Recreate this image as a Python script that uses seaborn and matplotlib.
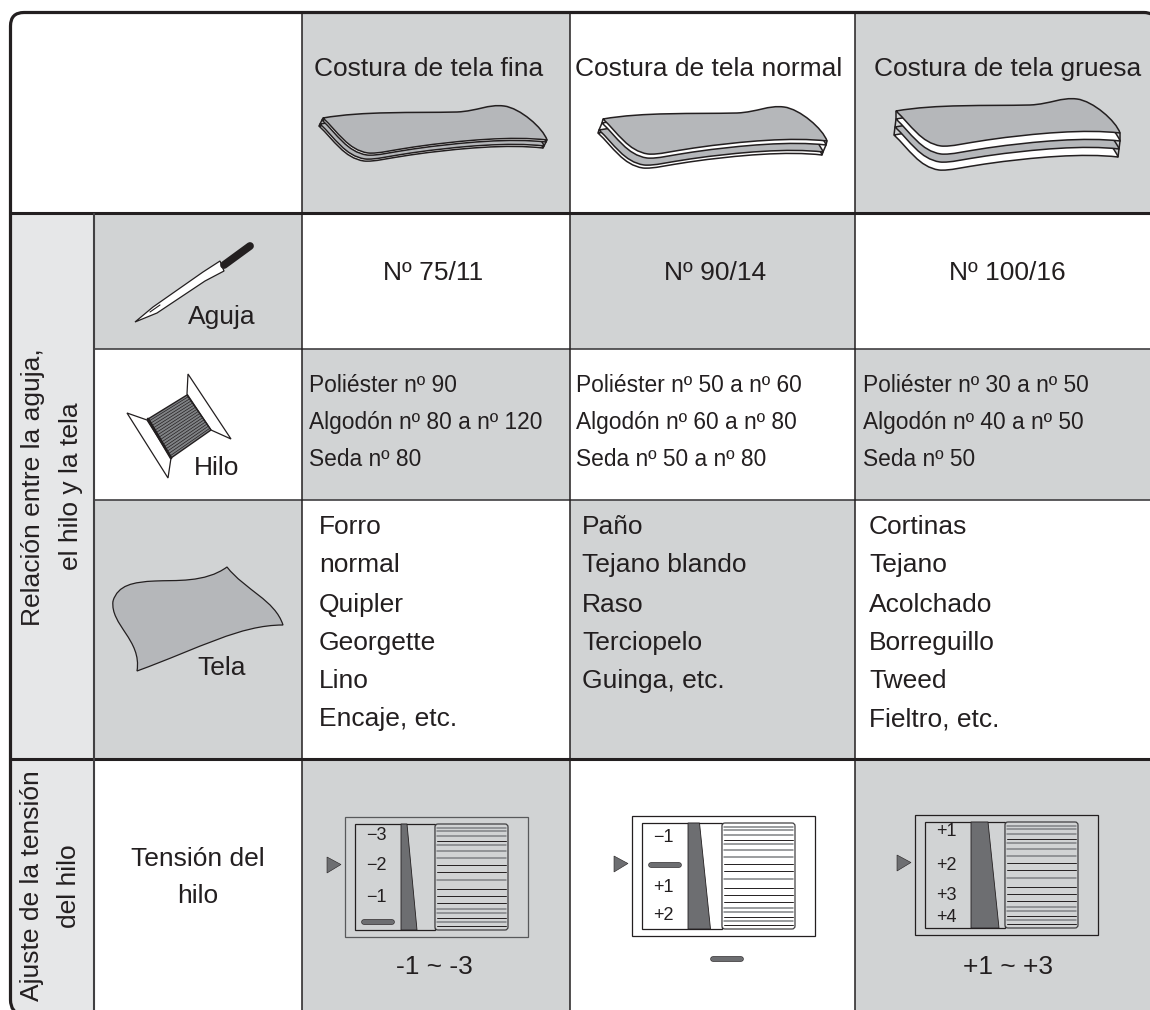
import numpy as np
import matplotlib
matplotlib.use('Agg')
import matplotlib.pyplot as plt
import seaborn as sns
from matplotlib.colors import ListedColormap
from matplotlib.patches import FancyBboxPatch, PathPatch, Polygon, Rectangle
from matplotlib.path import Path

# table structure
col_edges = [0, 93, 302, 570, 855, 1150]
row_edges = [0, 213, 349, 500, 759, 1010]
# 0 white, 1 light, 2 grey
cell_shades = [
    [0, 0, 2, 0, 2],
    [1, 2, 0, 2, 0],
    [1, 0, 2, 0, 2],
    [1, 2, 0, 2, 0],
    [1, 0, 2, 0, 2],
]

headers = ['Costura de tela fina', 'Costura de tela normal', 'Costura de tela gruesa']
needles = ['Nº 75/11', 'Nº 90/14', 'Nº 100/16']
threads = [
    ['Poliéster nº 90', 'Algodón nº 80 a nº 120', 'Seda nº 80'],
    ['Poliéster nº 50 a nº 60', 'Algodón nº 60 a nº 80', 'Seda nº 50 a nº 80'],
    ['Poliéster nº 30 a nº 50', 'Algodón nº 40 a nº 50', 'Seda nº 50'],
]
fabrics = [
    ['Forro', 'normal', 'Quipler', 'Georgette', 'Lino', 'Encaje, etc.'],
    ['Paño', 'Tejano blando', 'Raso', 'Terciopelo', 'Guinga, etc.'],
    ['Cortinas', 'Tejano', 'Acolchado', 'Borreguillo', 'Tweed', 'Fieltro, etc.'],
]
gauge_labels = [
    ['−3', '−2', '−1', None],
    ['−1', None, '+1', '+2'],
    ['+1', '+2', '+3', '+4'],
]
tension_values = ['-1 ~ -3', None, '+1 ~ +3']

INK = '#231f20'
GREY = '#d1d3d4'
LIGHT = '#e6e7e8'
FACE = '#b5b7ba'
DARK = '#6d6e71'
MID = '#808285'

sns.set_theme(style='white')
plt.rcParams['font.family'] = ['Liberation Sans', 'DejaVu Sans']
plt.rcParams['text.color'] = INK

fig = plt.figure(figsize=(11.5, 10.1), dpi=100)
ax = fig.add_axes([0, 0, 1, 1])

# cell shading on a pixel grid, so the uneven columns keep their width
shade_grid = np.repeat(np.repeat(np.array(cell_shades), np.diff(row_edges), axis=0),
                       np.diff(col_edges), axis=1)
sns.heatmap(shade_grid, ax=ax, cmap=ListedColormap(['white', LIGHT, GREY]), vmin=0, vmax=2,
            cbar=False, xticklabels=False, yticklabels=False, antialiased=False)
ax.set_xlim(0, 1150)
ax.set_ylim(1010, 0)
ax.axis('off')

# outer frame, it runs off the page on the right and at the bottom
frame_pts = [(22, 1016), (10.5, 1012), (10.5, 1000), (10.5, 26), (10.5, 12.5), (24, 12.5),
             (1144, 12.5), (1153, 12.5), (1158, 20)]
frame_codes = [Path.MOVETO, Path.CURVE3, Path.CURVE3, Path.LINETO, Path.CURVE3, Path.CURVE3,
               Path.LINETO, Path.CURVE3, Path.CURVE3]
ax.add_patch(PathPatch(Path(frame_pts, frame_codes), fc='none', ec=INK, lw=2.3, zorder=5))
clip_pts = frame_pts + [(1158, 1016), (22, 1016)]
clip_codes = frame_codes + [Path.LINETO, Path.CLOSEPOLY]
clip_patch = PathPatch(Path(clip_pts, clip_codes), fc='none', ec='none')
ax.add_patch(clip_patch)
ax.collections[0].set_clip_path(clip_patch)

# grid lines
ax.hlines([213, 759], 10, 1150, color=INK, lw=2.2, zorder=3)
ax.hlines([349, 500], 93, 1150, color='#414042', lw=1.2, zorder=3)
ax.vlines(93.5, 213, 1010, color='#414042', lw=1.5, zorder=3)
ax.vlines([302, 570, 855], 12, 1010, color=INK, lw=1.1, zorder=3)

# header and needle text
for cx, head in zip([429, 709, 1008], headers):
    ax.text(cx, 69, head, ha='center', va='center', fontsize=19)
for cx, needle in zip([433, 715, 1007], needles):
    ax.text(cx, 273, needle, ha='center', va='center', fontsize=19)

for x, lines in zip([309, 576, 863], threads):
    for y, line in zip([386, 423, 460], lines):
        ax.text(x, y, line, ha='left', va='center', fontsize=16.4)

for x, lines in zip([319, 582, 869], fabrics):
    for y, line in zip([527, 565, 605, 643, 681, 719], lines):
        ax.text(x, y, line, ha='left', va='center', fontsize=19)

# side labels
ax.text(33, 487, 'Relación entre la aguja,', rotation=90, ha='center', va='center', fontsize=19)
ax.text(71, 486, 'el hilo y la tela', rotation=90, ha='center', va='center', fontsize=19)
ax.text(32, 886, 'Ajuste de la tensión', rotation=90, ha='center', va='center', fontsize=19)
ax.text(69, 886, 'del hilo', rotation=90, ha='center', va='center', fontsize=19)
ax.text(198, 859, 'Tensión del', ha='center', va='center', fontsize=19)
ax.text(198, 896, 'hilo', ha='center', va='center', fontsize=19)
ax.text(222, 317, 'Aguja', ha='center', va='center', fontsize=19)
ax.text(217, 468, 'Hilo', ha='center', va='center', fontsize=19)
ax.text(222, 668, 'Tela', ha='center', va='center', fontsize=19)


def draw_cloth(x0, y0, layers):
    # top face outline, relative to its left corner
    verts = [(0, 0), (40, -7), (90, -5), (134, -6), (155, -7), (165, -14), (181, -12),
             (197, -10), (220, 10), (224, 22), (190, 18), (140, 22), (91, 29),
             (70, 32), (55, 36), (45, 35), (25, 32), (15, 14), (0, 0)]
    codes = [Path.MOVETO] + [Path.CURVE4] * 18
    for dx, dy, fill in layers:
        pts = [(x0 + x + dx, y0 + y + dy) for x, y in verts]
        ax.add_patch(PathPatch(Path(pts, codes), fc=fill, ec=INK, lw=1.1, zorder=4))
    # close the ends of the stack
    for (dx1, dy1, _), (dx2, dy2, _) in zip(layers[:-1], layers[1:]):
        ax.plot([x0 + dx1, x0 + dx2], [y0 + dy1, y0 + dy2], color=INK, lw=1.1,
                solid_capstyle='round', zorder=4)
        ax.plot([x0 + 224 + dx1, x0 + 224 + dx2], [y0 + 22 + dy1, y0 + 22 + dy2], color=INK, lw=1.1,
                solid_capstyle='round', zorder=4)


draw_cloth(323, 118, [(-4, 8, 'white'), (-3, 6, FACE), (-1, 2, 'white'), (0, 0, FACE)])
draw_cloth(603, 119, [(-5, 14, 'white'), (-4, 11, FACE), (-1, 4, 'white'), (0, 0, FACE)])
draw_cloth(896, 111, [(-2, 24, 'white'), (-1, 16, FACE), (0, 8, 'white'), (0, 0, FACE)])

# needle
ax.add_patch(Polygon([(135, 322), (153, 307), (203, 272), (220, 261), (224, 271), (205, 281), (157, 313)],
                     fc='white', ec=INK, lw=0.9, zorder=4))
ax.plot([224, 250], [265, 246], color=INK, lw=5.6, solid_capstyle='round', zorder=4)
ax.plot([150, 160], [312, 305], color=INK, lw=0.8, zorder=5)

# spool
ax.add_patch(Polygon([(127, 413), (147, 420), (171, 458), (168, 478)], fc='white', ec=INK, lw=0.9, zorder=4))
ax.add_patch(Polygon([(188, 374), (187, 394), (211, 430), (231, 439)], fc='white', ec=INK, lw=0.9, zorder=4))
ax.add_patch(Polygon([(148, 419), (187, 395), (211, 430), (171, 458)], fc=MID, ec=INK, lw=1, zorder=4))
for t in np.linspace(0.05, 0.95, 16):
    ax.plot([148 + 23 * t, 187 + 24 * t], [419 + 39 * t, 395 + 35 * t], color=INK, lw=0.5, zorder=5)
ax.plot([148, 171], [419, 458], color=INK, lw=2, zorder=5)

# fabric swatch
swatch = [(113, 601), (118, 585), (133, 582), (155, 581), (175, 580), (205, 583), (227, 567),
          (245, 590), (275, 600), (283, 625), (240, 625), (200, 648), (137, 671),
          (142, 640), (110, 625), (113, 601)]
ax.add_patch(PathPatch(Path(swatch, [Path.MOVETO] + [Path.CURVE4] * 15),
                       fc=FACE, ec=INK, lw=0.9, zorder=4))

# dial lines, grey wide or dark thin, measured down from the box top
dial_y = [11, 14, 19, 24, 28, 34, 41, 48, 55, 63, 72, 79, 86, 92, 96, 101, 105, 109]
dial_dark = [0, 0, 0, 1, 0, 0, 0, 1, 1, 0, 1, 1, 1, 0, 0, 1, 0, 1]
wedge_top = [6, 11.5, 17]
wedge_bottom = [16, 22.5, 28]
gauge_x = [345, 632, 915]
gauge_y = [817, 816, 815]
label_y = [[835, 865, 896, 922], [837, 865, 887, 914], [831, 864, 894, 917]]


def draw_pill(cx, cy):
    ax.plot([cx - 14, cx + 14], [cy, cy], color=INK, lw=4, solid_capstyle='round', zorder=6)
    ax.plot([cx - 14, cx + 14], [cy, cy], color=DARK, lw=3.2, solid_capstyle='round', zorder=6)


for i, (bx, by) in enumerate(zip(gauge_x, gauge_y)):
    box_fc = GREY if i != 1 else 'white'
    ax.add_patch(Rectangle((bx, by), 183, 120, fc=box_fc, ec=INK if i else '#58595b', lw=0.9, zorder=4))
    ax.add_patch(Rectangle((bx + 10, by + 7), 80, 106, fc=box_fc, ec=INK, lw=0.9, zorder=4))
    ax.add_patch(Polygon([(bx + 56, by + 7), (bx + 56 + wedge_top[i], by + 7),
                          (bx + 56 + wedge_bottom[i], by + 113), (bx + 56, by + 113)],
                         fc=DARK, ec=INK, lw=0.6, zorder=5))
    ax.add_patch(FancyBboxPatch((bx + 90, by + 7), 73, 106, boxstyle='round,pad=0,rounding_size=3',
                                fc=box_fc, ec='#414042', lw=0.9, zorder=4))
    for y, dark in zip(dial_y, dial_dark):
        ax.plot([bx + 92, bx + 161], [by + y, by + y], color=INK if dark else MID,
                lw=0.7 if dark else 1.1, zorder=5)
    # side arrow
    ax.add_patch(Polygon([(bx - 18, by + 40), (bx - 4, by + 47.5), (bx - 18, by + 56)],
                         fc=DARK, ec=INK, lw=0.4, zorder=5))
    for y, label in zip(label_y[i], gauge_labels[i]):
        if label is None:
            draw_pill(bx + 33, y)
        else:
            ax.text(bx + 31, y + 1, label, ha='center', va='center', fontsize=13, zorder=6)

for cx, value in zip([434, 715, 1008], tension_values):
    if value is None:
        draw_pill(727, 959)
    else:
        ax.text(cx, 967, value, ha='center', va='center', fontsize=19, zorder=6)

fig.savefig('out.png', dpi=100)
